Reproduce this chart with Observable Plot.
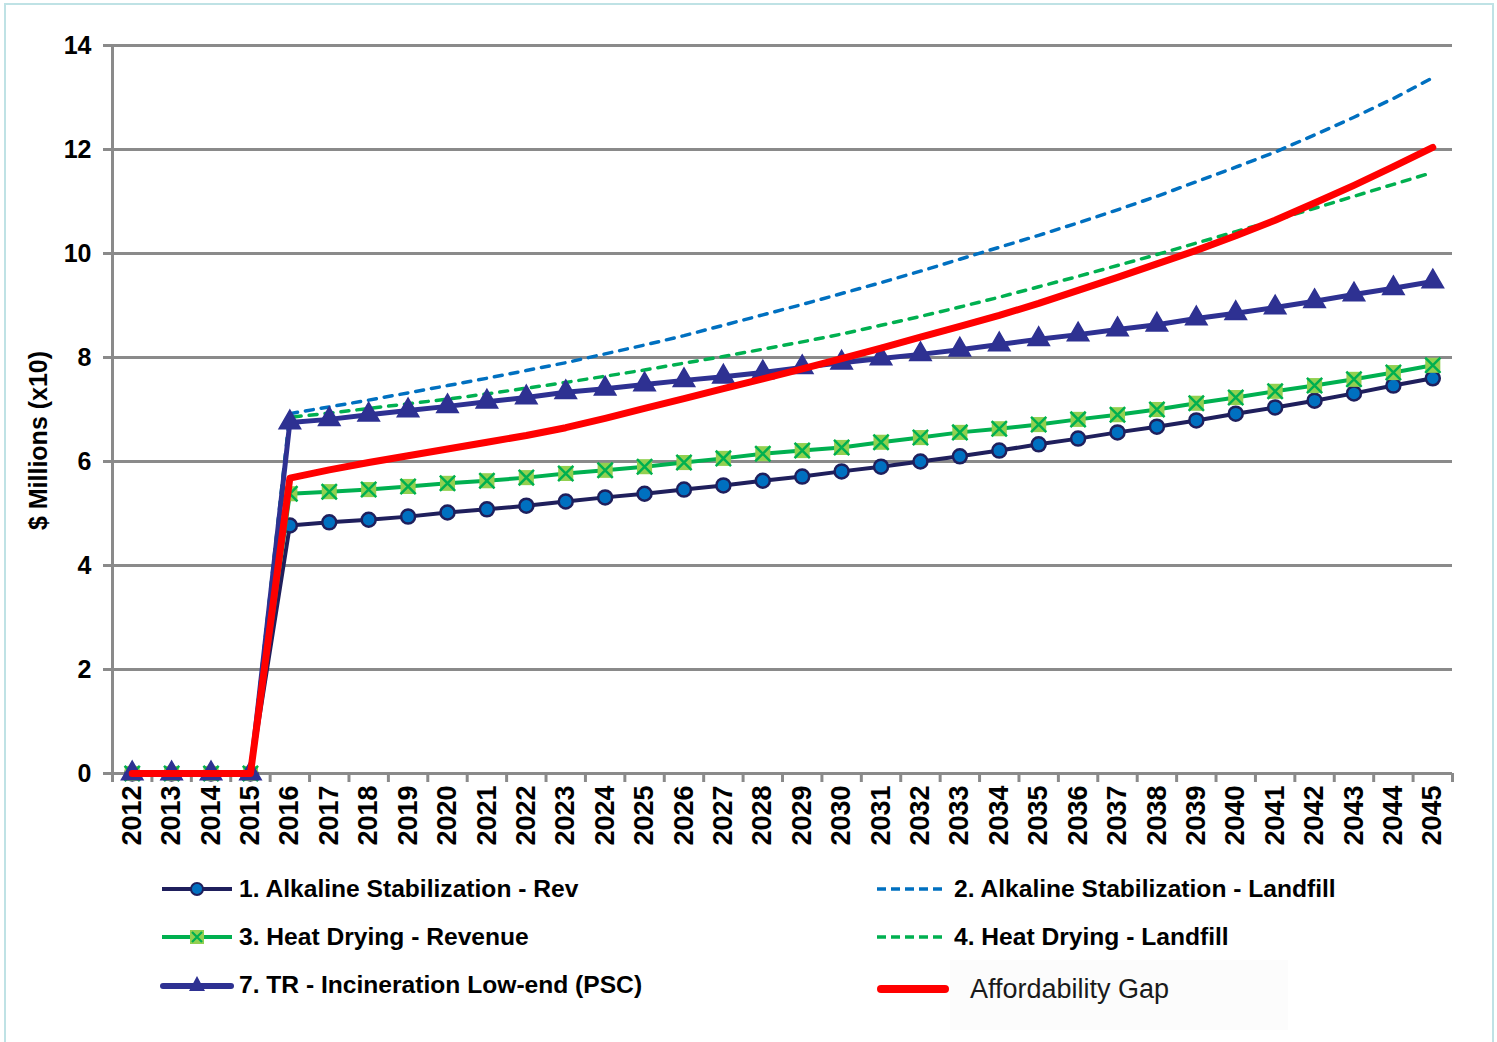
<!DOCTYPE html>
<html><head><meta charset="utf-8">
<script src="https://cdn.jsdelivr.net/npm/d3@7"></script>
<script src="https://cdn.jsdelivr.net/npm/@observablehq/plot@0.6"></script>
<style>
body{margin:0;background:#fff;font-family:"Liberation Sans",Arial,sans-serif;}
#wrap{position:relative;width:1497px;height:1042px;overflow:hidden;background:#fff;}
#frame{position:absolute;left:4px;top:3px;width:1490px;height:1060px;border:2px solid #bfe2e5;box-sizing:border-box;pointer-events:none;}
#chart{position:absolute;left:0;top:0;}
.leg{position:absolute;display:flex;align-items:center;height:40px;font-weight:bold;font-size:24.6px;color:#000;white-space:nowrap;}
.leg svg{margin-right:5px;}
#gapbox{position:absolute;left:950px;top:960px;width:338px;height:70px;background:#fcfcfc;}
</style></head><body>
<div id="wrap"><div id="gapbox"></div><div id="chart"></div><div id="legend"></div><div id="frame"></div></div>
<script>
const years = [2012,2013,2014,2015,2016,2017,2018,2019,2020,2021,2022,2023,2024,2025,2026,2027,2028,2029,2030,2031,2032,2033,2034,2035,2036,2037,2038,2039,2040,2041,2042,2043,2044,2045];
const yTicks = [0,2,4,6,8,10,12,14];
const seriesNames = ["1. Alkaline Stabilization - Rev","2. Alkaline Stabilization - Landfill","3. Heat Drying - Revenue","4. Heat Drying - Landfill","7. TR - Incineration Low-end (PSC)","Affordability Gap"];
const alkRev = [0,0,0,0,4.77,4.83,4.88,4.94,5.02,5.08,5.15,5.23,5.31,5.38,5.46,5.54,5.63,5.71,5.81,5.90,6.00,6.10,6.21,6.33,6.44,6.56,6.67,6.79,6.92,7.04,7.17,7.31,7.46,7.60];
const alkLandfill = [0,0,0,0,6.92,7.05,7.18,7.32,7.46,7.60,7.75,7.90,8.07,8.24,8.42,8.62,8.82,9.02,9.23,9.44,9.66,9.89,10.12,10.35,10.59,10.84,11.10,11.38,11.66,11.95,12.28,12.62,12.98,13.38];
const heatRev = [0,0,0,0,5.38,5.42,5.46,5.52,5.58,5.63,5.69,5.77,5.83,5.90,5.98,6.06,6.15,6.21,6.27,6.37,6.46,6.56,6.63,6.71,6.81,6.90,7.00,7.12,7.23,7.35,7.46,7.58,7.71,7.85];
const heatLandfill = [0,0,0,0,6.85,6.93,7.02,7.11,7.20,7.30,7.41,7.52,7.64,7.76,7.89,8.02,8.16,8.30,8.45,8.62,8.79,8.97,9.16,9.36,9.56,9.77,9.98,10.20,10.42,10.64,10.87,11.10,11.33,11.56];
const trIncin = [0,0,0,0,6.75,6.81,6.90,6.98,7.06,7.15,7.23,7.33,7.40,7.48,7.56,7.63,7.71,7.81,7.90,7.98,8.06,8.15,8.25,8.35,8.44,8.54,8.63,8.75,8.85,8.96,9.08,9.21,9.33,9.46];
const gap = [0,0,0,0,5.68,5.84,5.98,6.11,6.24,6.37,6.50,6.65,6.83,7.02,7.21,7.40,7.59,7.78,7.98,8.18,8.39,8.60,8.81,9.04,9.29,9.54,9.80,10.06,10.34,10.64,10.97,11.31,11.67,12.04];

const rows = vals => years.map((year, i) => ({year, v: vals[i]}));
const edges = years.map(y => y - 0.5).concat([years[years.length - 1] + 0.5]);
const grid = "#8a8a8a";

const chart = Plot.plot({
  width: 1497, height: 870,
  marginTop: 45, marginBottom: 97, marginLeft: 112, marginRight: 45,
  x: {type: "linear", domain: [edges[0], edges[edges.length - 1]]},
  y: {domain: [0, 14]},
  style: {fontFamily: "'Liberation Sans', Arial, sans-serif", background: "transparent", overflow: "visible"},
  marks: [
    Plot.ruleY(yTicks, {stroke: grid, strokeWidth: 3}),
    Plot.ruleX([edges[0]], {stroke: grid, strokeWidth: 3}),
    Plot.axisY({ticks: yTicks, tickSize: 9, tickPadding: 12, stroke: grid, strokeWidth: 3, fontSize: 25, fontWeight: "bold", fill: "#000", label: null, tickFormat: d => String(d)}),
    Plot.axisX({ticks: edges, tickSize: 9, stroke: grid, strokeWidth: 3, tickFormat: () => "", label: null}),
    Plot.axisX({ticks: years, tickSize: 0, tickPadding: 12, tickRotate: -90, fontSize: 27, fontWeight: "bold", fill: "#000", tickFormat: d => String(d), label: null}),
    Plot.text(["$ Millions (x10)"], {frameAnchor: "left", dx: -74, dy: 31, rotate: -90, textAnchor: "middle", fontSize: 25, fontWeight: "bold", fill: "#000"}),
    Plot.line(rows(alkLandfill), {x: "year", y: "v", stroke: "#0070c0", strokeWidth: 3.5, strokeDasharray: "8,8"}),
    Plot.line(rows(heatLandfill), {x: "year", y: "v", stroke: "#00b050", strokeWidth: 3.5, strokeDasharray: "8,8"}),
    Plot.line(rows(alkRev), {x: "year", y: "v", stroke: "#1f1f5c", strokeWidth: 4}),
    Plot.dot(rows(alkRev), {x: "year", y: "v", r: 7, fill: "#0070c0", stroke: "#1f1f5c", strokeWidth: 2.5}),
    Plot.line(rows(heatRev), {x: "year", y: "v", stroke: "#00b050", strokeWidth: 4}),
    Plot.dot(rows(heatRev), {x: "year", y: "v", r: 8.5, symbol: "square", fill: "#92d050", stroke: "none"}),
    Plot.dot(rows(heatRev), {x: "year", y: "v", r: 7, symbol: "times", stroke: "#00b050", strokeWidth: 2.5}),
    Plot.line(rows(trIncin), {x: "year", y: "v", stroke: "#2e3192", strokeWidth: 5}),
    Plot.dot(rows(trIncin), {x: "year", y: "v", r: 8, symbol: "triangle", fill: "#2e3192", stroke: "#2e3192", strokeWidth: 1.5}),
    Plot.line(rows(gap), {x: "year", y: "v", stroke: "#ff0000", strokeWidth: 7})
  ]
});
document.getElementById("chart").appendChild(chart);

// legend
const legendItems = [
  {name: seriesNames[0], left: 160, cy: 889, kind: "circle", color: "#1f1f5c"},
  {name: seriesNames[2], left: 160, cy: 937, kind: "square", color: "#00b050"},
  {name: seriesNames[4], left: 160, cy: 985, kind: "triangle", color: "#2e3192"},
  {name: seriesNames[1], left: 875, cy: 889, kind: "dash", color: "#0070c0"},
  {name: seriesNames[3], left: 875, cy: 937, kind: "dash", color: "#00b050"},
  {name: seriesNames[5], left: 875, cy: 989, kind: "thick", color: "#ff0000"}
];
const leg = document.getElementById("legend");
for (const it of legendItems) {
  const d = document.createElement("div");
  d.className = "leg";
  d.style.left = it.left + "px";
  d.style.top = (it.cy - 20) + "px";
  let s = "";
  if (it.kind === "circle") s = `<svg width="74" height="20"><line x1="2" x2="72" y1="10" y2="10" stroke="${it.color}" stroke-width="4"/><circle cx="37" cy="10" r="6" fill="#0070c0" stroke="#1f1f5c" stroke-width="2"/></svg>`;
  if (it.kind === "square") s = `<svg width="74" height="20"><line x1="2" x2="72" y1="10" y2="10" stroke="${it.color}" stroke-width="4"/><rect x="30" y="3" width="14" height="14" fill="#92d050"/><path d="M32,5L42,15M42,5L32,15" stroke="#00b050" stroke-width="2.2"/></svg>`;
  if (it.kind === "triangle") s = `<svg width="74" height="22"><line x1="3" x2="71" y1="12" y2="12" stroke="${it.color}" stroke-width="6" stroke-linecap="round"/><path d="M37,2L45,17L29,17Z" fill="${it.color}"/></svg>`;
  if (it.kind === "dash") s = `<svg width="74" height="20"><line x1="2" x2="70" y1="10" y2="10" stroke="${it.color}" stroke-width="3.5" stroke-dasharray="9,5"/></svg>`;
  if (it.kind === "thick") s = `<svg width="90" height="20"><line x1="6" x2="70" y1="10" y2="10" stroke="${it.color}" stroke-width="8" stroke-linecap="round"/></svg>`;
  const txt = it.kind === "thick" ? `<span style="font-weight:normal;font-size:27px;color:#1a1a1a">${it.name}</span>` : `<span>${it.name}</span>`;
  d.innerHTML = s + txt;
  leg.appendChild(d);
}
</script>
</body></html>
